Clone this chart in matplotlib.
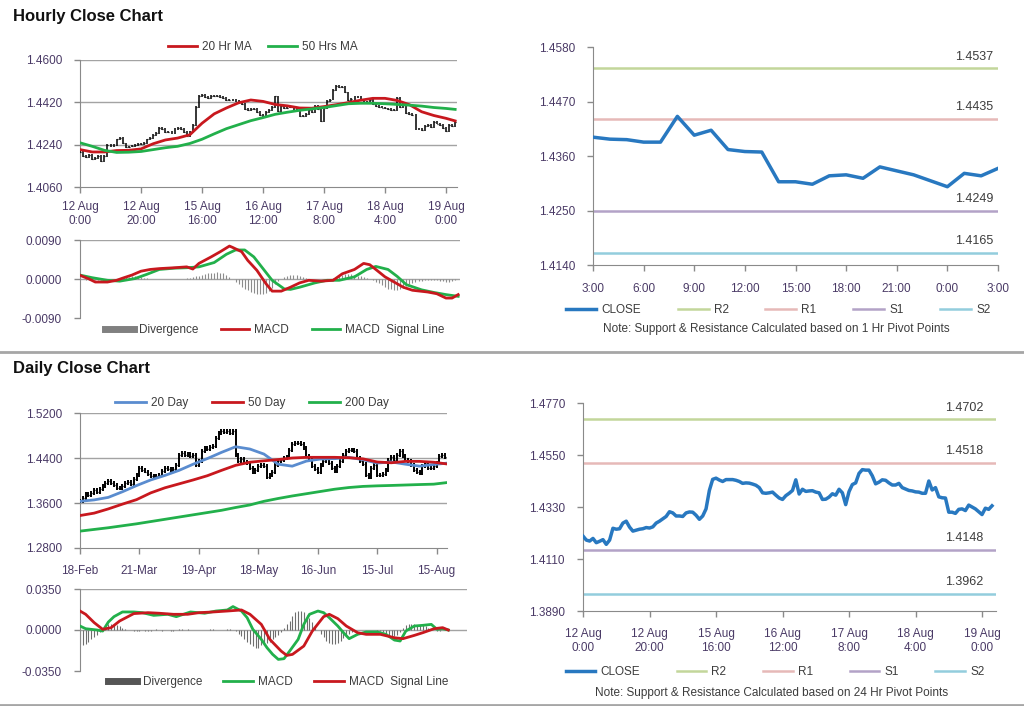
import matplotlib
matplotlib.use('Agg')
import matplotlib.pyplot as plt
from matplotlib.lines import Line2D
import numpy as np

plt.rcParams['font.family'] = ['Liberation Sans', 'DejaVu Sans']

# ---------------- DATA ----------------
hourly_close = [
    1.4207, 1.4190, 1.4186, 1.4197, 1.4179, 1.4185, 1.4192, 1.4172, 1.4190, 1.4240,
    1.4236, 1.4238, 1.4262, 1.4270, 1.4245, 1.4228, 1.4232, 1.4236, 1.4238, 1.4243,
    1.4241, 1.4246, 1.4262, 1.4270, 1.4280, 1.4290, 1.4310, 1.4305, 1.4292, 1.4292,
    1.4290, 1.4305, 1.4309, 1.4308, 1.4295, 1.4278, 1.4292, 1.4322, 1.4400, 1.4447,
    1.4452, 1.4444, 1.4438, 1.4446, 1.4446, 1.4446, 1.4443, 1.4438, 1.4430, 1.4432,
    1.4431, 1.4427, 1.4422, 1.4412, 1.4390, 1.4388, 1.4390, 1.4393, 1.4380, 1.4368,
    1.4362, 1.4378, 1.4388, 1.4400, 1.4445, 1.4385, 1.4405, 1.4396, 1.4398, 1.4399,
    1.4393, 1.4390, 1.4362, 1.4363, 1.4372, 1.4386, 1.4380, 1.4405, 1.4390, 1.4340,
    1.4395, 1.4425, 1.4432, 1.4472, 1.4488, 1.4486, 1.4486, 1.4462, 1.4428, 1.4435,
    1.4445, 1.4443, 1.4432, 1.4423, 1.4423, 1.4430, 1.4412, 1.4406, 1.4400,
    1.4398, 1.4394, 1.4393, 1.4388, 1.4388, 1.4440, 1.4402, 1.4412, 1.4373, 1.4369,
    1.4368, 1.4308, 1.4308, 1.4303, 1.4320, 1.4322, 1.4315, 1.4338, 1.4330, 1.4322,
    1.4310, 1.4298, 1.4325, 1.4320, 1.4335]

hourly_tick_pos = [0, 20, 40, 60, 80, 100, 120]
hourly_tick_labels = ['12 Aug\n0:00', '12 Aug\n20:00', '15 Aug\n16:00', '16 Aug\n12:00',
                      '17 Aug\n8:00', '18 Aug\n4:00', '19 Aug\n0:00']

ma_hours = [0, 4, 8, 12, 16, 20, 24, 28, 32, 36, 40, 44, 48, 52, 56, 60, 64, 68, 72, 76,
            80, 84, 88, 92, 96, 100, 104, 108, 112, 116, 120, 123]
ma20_hr = [1.4219, 1.4209, 1.4209, 1.4215, 1.4216, 1.4222, 1.4244, 1.4260, 1.4268, 1.4282,
           1.4331, 1.4371, 1.4396, 1.4418, 1.4430, 1.4424, 1.4411, 1.4405, 1.4396, 1.4395,
           1.4402, 1.4410, 1.4419, 1.4429, 1.4437, 1.4437, 1.4428, 1.4410, 1.4380, 1.4364,
           1.4352, 1.4341]
ma50_hr = [1.4248, 1.4233, 1.4216, 1.4207, 1.4208, 1.4211, 1.4219, 1.4227, 1.4233, 1.4245,
           1.4263, 1.4286, 1.4308, 1.4325, 1.4342, 1.4355, 1.4369, 1.4378, 1.4386, 1.4392,
           1.4398, 1.4406, 1.4414, 1.4416, 1.4416, 1.4414, 1.4411, 1.4408, 1.4404, 1.4398,
           1.4394, 1.4390]

h_macd_x = [0, 3, 5, 9, 12, 14, 17, 20, 23, 26, 31, 35, 37, 39, 43, 46, 49, 50, 53, 55,
            58, 61, 63, 66, 69, 72, 75, 79, 83, 86, 90, 93, 95, 97, 100, 103, 106, 109, 114, 117,
            120, 122, 124]
h_macd = [0.00085, 0.0000, -0.0007, -0.0007, -0.0003, 0.0002, 0.0009, 0.0018, 0.0022, 0.0024,
          0.0026, 0.0028, 0.0023, 0.0036, 0.0051, 0.0063, 0.0076, 0.0073, 0.0063, 0.0043,
          0.0020, -0.0011, -0.0028, -0.0028, -0.0019, -0.0009, -0.0003, -0.0005, -0.0003, 0.0012,
          0.0022, 0.0036, 0.0033, 0.0022, 0.0005, -0.0007, -0.0019, -0.0026, -0.0030, -0.0034,
          -0.0044, -0.0044, -0.0036]
h_sig_x = [0, 4, 9, 13, 18, 22, 26, 31, 35, 39, 44, 48, 51, 54, 57, 60, 63, 67, 69, 72,
           77, 81, 85, 90, 94, 97, 101, 104, 107, 112, 116, 120, 124]
h_sig = [0.0009, 0.0003, -0.0003, -0.0005, 0.0001, 0.0011, 0.0022, 0.0025, 0.0026, 0.0028,
         0.0038, 0.0057, 0.0067, 0.0067, 0.0051, 0.0024, -0.0003, -0.0023, -0.0024, -0.0019,
         -0.0009, -0.0003, -0.0003, 0.0005, 0.0022, 0.0029, 0.0022, 0.0006, -0.0013, -0.0025,
         -0.0031, -0.0036, -0.0040]
h_div_e4 = [0, -1, -2, -3, -3, -3, -2, -2, -2, -1,
            -1, 0, 1, 2, 3, 4, 5, 6, 6, 5,
            4, 3, 2, 1, 0, -1, -1, -1, -1, -1,
            -1, 0, 0, 1, 1, 2, 3, 4, 6, 8,
            10, 12, 13, 14, 15, 16, 15, 14, 10, 5,
            0, -6, -12, -18, -22, -26, -29, -32, -34, -35,
            -35, -33, -28, -20, -12, -5, 1, 5, 8, 10,
            10, 9, 7, 5, 3, 1, 0, -1, -1, -1,
            -1, 0, 1, 3, 5, 8, 10, 12, 12, 11,
            10, 8, 6, 4, 2, 0, -3, -6, -10, -14,
            -18, -22, -24, -25, -25, -23, -20, -16, -12, -9,
            -7, -5, -4, -3, -2, -2, -2, -3, -4, -5,
            -6, -6, -4, -2]

pivot_hours = ['3:00', '6:00', '9:00', '12:00', '15:00', '18:00', '21:00', '0:00', '3:00']
levels_1h = {'R2': 1.4537, 'R1': 1.4435, 'S1': 1.4249, 'S2': 1.4165}
levels_24h = {'R2': 1.4702, 'R1': 1.4518, 'S1': 1.4148, 'S2': 1.3962}

daily_close = [
    1.3630, 1.3690, 1.3760, 1.3740, 1.3786, 1.3828, 1.3798, 1.3846, 1.3900, 1.3950,
    1.3991, 1.3960, 1.3918, 1.3870, 1.3858, 1.3906, 1.3948, 1.3979, 1.3930, 1.4020,
    1.4099, 1.4219, 1.4189, 1.4160, 1.4111, 1.4080, 1.4069, 1.4075, 1.4099, 1.4171,
    1.4219, 1.4200, 1.4171, 1.4200, 1.4280, 1.4448, 1.4490, 1.4460, 1.4470, 1.4440,
    1.4448, 1.4280, 1.4340, 1.4520, 1.4581, 1.4560, 1.4590, 1.4611, 1.4761, 1.4852,
    1.4882, 1.4860, 1.4882, 1.4852, 1.4882, 1.4450, 1.4340, 1.4388, 1.4330, 1.4310,
    1.4219, 1.4159, 1.4189, 1.4250, 1.4280, 1.4260, 1.4069, 1.4099, 1.4159, 1.4280,
    1.4340, 1.4360, 1.4400, 1.4412, 1.4550, 1.4641, 1.4671, 1.4660, 1.4653, 1.4581,
    1.4430, 1.4370, 1.4250, 1.4200, 1.4159, 1.4280, 1.4340, 1.4400, 1.4310, 1.4219,
    1.4171, 1.4250, 1.4340, 1.4460, 1.4532, 1.4550, 1.4540, 1.4520, 1.4400, 1.4340,
    1.4292, 1.4099, 1.4069, 1.4219, 1.4280, 1.4099, 1.4105, 1.4111, 1.4189, 1.4370,
    1.4412, 1.4370, 1.4450, 1.4520, 1.4430, 1.4370, 1.4340, 1.4280, 1.4189, 1.4150,
    1.4129, 1.4250, 1.4310, 1.4219, 1.4219, 1.4250, 1.4310, 1.4430, 1.4460, 1.4412,
    1.4370]
daily_tick_pos = [0, 21, 42, 63, 84, 105, 126]
daily_tick_labels = ['18-Feb', '21-Mar', '19-Apr', '18-May', '16-Jun', '15-Jul', '15-Aug']

ma_days = [0, 5, 10, 15, 20, 25, 30, 35, 40, 45, 50, 55, 60, 65, 70, 75, 80, 85, 90, 95,
           100, 105, 110, 115, 120, 125, 130]
ma20_day = [1.3630, 1.3655, 1.3700, 1.3800, 1.3910, 1.4010, 1.4090, 1.4180, 1.4290, 1.4390,
            1.4500, 1.4600, 1.4560, 1.4470, 1.4290, 1.4255, 1.4345, 1.4382, 1.4388, 1.4412,
            1.4370, 1.4310, 1.4330, 1.4290, 1.4255, 1.4285, 1.4310]
ma50_day = [1.3377, 1.3420, 1.3495, 1.3580, 1.3660, 1.3780, 1.3870, 1.3940, 1.4010, 1.4085,
            1.4180, 1.4270, 1.4325, 1.4350, 1.4372, 1.4400, 1.4412, 1.4412, 1.4412, 1.4405,
            1.4385, 1.4330, 1.4315, 1.4340, 1.4340, 1.4325, 1.4292]
ma200_day = [1.3100, 1.3130, 1.3160, 1.3195, 1.3230, 1.3270, 1.3310, 1.3350, 1.3390, 1.3430,
             1.3470, 1.3520, 1.3565, 1.3630, 1.3680, 1.3725, 1.3765, 1.3805, 1.3845, 1.3875,
             1.3895, 1.3905, 1.3912, 1.3920, 1.3928, 1.3935, 1.3965]

d_macd_x = [0, 2, 6, 8, 10, 12, 15, 19, 22, 26, 31, 34, 39, 44, 48, 52, 54, 57, 59, 61,
            64, 66, 68, 70, 72, 74, 77, 79, 81, 84, 86, 88, 91, 93, 95, 98, 101, 105, 108, 111,
            113, 115, 118, 121, 124, 126, 128, 130]
d_macd = [0.0034, 0.0011, 0.0, -0.0009, 0.0068, 0.0114, 0.0154, 0.0154, 0.0148, 0.0125,
          0.0134, 0.0114, 0.0154, 0.0143, 0.0162, 0.0171, 0.0200, 0.0162, 0.0105, 0.0006,
          -0.0080, -0.0151, -0.0208, -0.0251, -0.0245, -0.0180, -0.0080, 0.0048, 0.0134, 0.0162,
          0.0148, 0.0105, 0.0034, -0.0023, -0.0074, -0.0037, -0.0017, -0.0017, -0.0037, -0.0086,
          -0.0094, -0.0009, 0.0034, 0.0040, 0.0048, 0.0006, 0.0011, 0.0]
d_sig_x = [0, 2, 5, 8, 11, 14, 19, 24, 28, 33, 38, 42, 47, 52, 57, 60, 64, 67, 71, 73,
           75, 79, 82, 86, 88, 91, 94, 98, 101, 106, 111, 114, 118, 121, 125, 128, 130]
d_sig = [0.0162, 0.0134, 0.0063, 0.0006, 0.0020, 0.0077, 0.0140, 0.0148, 0.0143, 0.0134,
         0.0134, 0.0148, 0.0154, 0.0162, 0.0171, 0.0134, 0.0048, -0.0080, -0.0180, -0.0217,
         -0.0208, -0.0137, -0.0009, 0.0114, 0.0134, 0.0097, 0.0034, -0.0023, -0.0037, -0.0037,
         -0.0066, -0.0074, -0.0046, -0.0023, 0.0011, 0.0020, 0.0]
d_div_e3 = [-12, -13, -12, -10, -8, -6, -4, -2, 1, 3,
            5, 5, 4, 4, 3, 2, 1, 0, 0, -1,
            -1, -1, 0, -1, -1, -1, 0, 1, 0, -1,
            0, 0, -1, -1, 0, 1, 1, 0, 1, 0,
            0, 0, 0, 0, 0, 0, 1, 1, 0, 0,
            0, 0, 1, 1, 0, -1, -3, -5, -8, -10,
            -12, -14, -15, -15, -13, -12, -11, -10, -8, -6,
            -4, -2, 2, 5, 8, 12, 15, 16, 16, 15,
            13, 10, 7, 3, 0, -3, -6, -9, -11, -12,
            -12, -11, -9, -7, -5, -3, -2, -1, 0, 0,
            0, 0, 0, 0, 0, -1, -1, -2, -3, -4,
            -5, -5, -4, -2, 2, 4, 5, 5, 5, 4,
            4, 4, 3, 2, 1, 0, -1, -1, 0, 0,
            0]

# ---------------- STYLE ----------------
W, H = 1024, 706
fig = plt.figure(figsize=(W / 100, H / 100), dpi=100)

TICK_C = '#4a3a66'
SPINE_C = '#8a8a8a'
GRID_C = '#a3a3a3'
TXT_C = '#3c3c3c'
RED = '#c8181e'
GREEN = '#22b04b'
BLUE20 = '#5a8ccf'
CLOSE_C = '#2878c0'
LEVEL_C = {'R2': '#c3d69b', 'R1': '#e6b9b8', 'S1': '#b3a2c7', 'S2': '#93cddd'}
TL = 8.5


def ax_px(l, t, r, b):
    return fig.add_axes([l / W, 1 - b / H, (r - l) / W, (b - t) / H])


def style(ax, bottom=True):
    for s in ['top', 'right']:
        ax.spines[s].set_visible(False)
    ax.spines['left'].set_color(SPINE_C)
    ax.spines['bottom'].set_color(SPINE_C)
    ax.spines['bottom'].set_visible(bottom)
    ax.tick_params(axis='both', colors=SPINE_C, labelcolor=TICK_C, labelsize=TL,
                   length=4, width=1, direction='out')
    ax.tick_params(axis='y', pad=9)
    ax.set_facecolor('none')


def legend(ax, handles, labels, cx, cy, colsp, hl=2.5, tp=0.45, fs=8.5):
    ax.legend(handles, labels, loc='center', bbox_to_anchor=(cx / W, 1 - cy / H),
              bbox_transform=fig.transFigure, ncol=len(handles), frameon=False,
              fontsize=fs, handlelength=hl, handletextpad=tp, columnspacing=colsp,
              borderpad=0, borderaxespad=0, labelcolor=TXT_C)


def ohlc(ax, closes, pad, lw):
    c = np.asarray(closes)
    x = np.arange(len(c))
    o = np.r_[c[0], c[:-1]]
    lo = np.minimum(o, c) - pad
    hi = np.maximum(o, c) + pad
    ax.vlines(x, lo, hi, color='black', lw=lw, zorder=3)
    ax.hlines(c, x, x + 0.3, color='black', lw=0.9, zorder=3)


fmt4 = lambda v: f'{v:.4f}'

# ---------------- Titles / separators ----------------
fig.text(13 / W, 1 - 16 / H, 'Hourly Close Chart', fontsize=12, fontweight='bold',
         color='#111111', va='center', ha='left')
fig.text(13 / W, 1 - 369 / H, 'Daily Close Chart', fontsize=12, fontweight='bold',
         color='#111111', va='center', ha='left')
fig.add_artist(Line2D([0, 1], [1 - 352 / H, 1 - 352 / H], color='#a6a6a6', lw=2,
                      transform=fig.transFigure))
fig.add_artist(Line2D([0, 1], [1 - 704.5 / H, 1 - 704.5 / H], color='#a6a6a6', lw=2,
                      transform=fig.transFigure))

# ---------------- Hourly price (top-left) ----------------
ax1 = ax_px(80, 60, 457, 187)
style(ax1)
yt = [1.4060, 1.4240, 1.4420, 1.4600]
for v in yt[1:]:
    ax1.axhline(v, color=GRID_C, lw=1, zorder=1)
ohlc(ax1, hourly_close, 0.0004, 1.1)
l20, = ax1.plot(ma_hours, ma20_hr, color=RED, lw=2, zorder=4)
l50, = ax1.plot(ma_hours, ma50_hr, color=GREEN, lw=2, zorder=4)
ax1.set_ylim(1.4060, 1.4600)
ax1.set_yticks(yt)
ax1.set_yticklabels([fmt4(v) for v in yt])
ax1.set_xlim(0, 123.6)
ax1.set_xticks(hourly_tick_pos)
ax1.set_xticklabels(hourly_tick_labels, linespacing=1.25)
ax1.tick_params(axis='x', pad=6)
legend(ax1, [l20, l50], ['20 Hr MA', '50 Hrs MA'], 263, 47, 1.4, hl=2.4)

# ---------------- Hourly MACD ----------------
ax2 = ax_px(80, 240, 460, 318)
style(ax2, bottom=False)
ax2.axhline(0.009, color=GRID_C, lw=1, zorder=1)
ax2.axhline(0.0, color=GRID_C, lw=1, zorder=1)
hx = np.arange(len(h_div_e4))
ax2.vlines(hx, 0, np.array(h_div_e4) * 1e-4, color='#8c8c8c', lw=0.8, zorder=2)
m1, = ax2.plot(h_macd_x, h_macd, color=RED, lw=2, zorder=4)
s1, = ax2.plot(h_sig_x, h_sig, color=GREEN, lw=2, zorder=3)
ax2.set_ylim(-0.009, 0.009)
ax2.set_yticks([-0.009, 0.0, 0.009])
ax2.set_yticklabels(['-0.0090', '0.0000', '0.0090'])
ax2.set_xlim(0, 124.6)
ax2.set_xticks([])
dh = Line2D([], [], color='#808080', lw=5)
legend(ax2, [dh, m1, s1], ['Divergence', 'MACD', 'MACD  Signal Line'], 275, 330, 1.9, hl=2.4)

# ---------------- Hourly pivot (top-right) ----------------
ax3 = ax_px(593, 47, 998, 265)
style(ax3)
piv = hourly_close[-25:]
handles = []
cl, = ax3.plot(range(len(piv)), piv, color=CLOSE_C, lw=2.5, zorder=4)
handles.append(cl)
for k, v in levels_1h.items():
    h, = ax3.plot([0, len(piv) - 1], [v, v], color=LEVEL_C[k], lw=1.8, zorder=2)
    handles.append(h)
    ax3.annotate(fmt4(v), xy=(0.988, v), xycoords=('axes fraction', 'data'),
                 xytext=(0, 4), textcoords='offset points', ha='right', va='bottom',
                 fontsize=9, color=TXT_C)
yt3 = [1.4140, 1.4250, 1.4360, 1.4470, 1.4580]
ax3.set_ylim(1.4140, 1.4580)
ax3.set_yticks(yt3)
ax3.set_yticklabels([fmt4(v) for v in yt3])
ax3.set_xlim(0, 24)
ax3.set_xticks(list(range(0, 25, 3)))
ax3.set_xticklabels(pivot_hours)
ax3.tick_params(axis='x', pad=9)
legend(ax3, handles, ['CLOSE', 'R2', 'R1', 'S1', 'S2'], 778, 310, 3.1, hl=2.6)
fig.text(776 / W, 1 - 329 / H, 'Note: Support & Resistance Calculated based on 1 Hr Pivot Points',
         fontsize=8.5, color=TXT_C, ha='center', va='center')

# ---------------- Daily price (bottom-left) ----------------
ax4 = ax_px(80, 413, 447, 548)
style(ax4)
ytd = [1.2800, 1.3600, 1.4400, 1.5200]
for v in ytd[1:]:
    ax4.axhline(v, color=GRID_C, lw=1, zorder=1)
ohlc(ax4, daily_close, 0.0035, 1.4)
b20, = ax4.plot(ma_days, ma20_day, color=BLUE20, lw=2, zorder=4)
b50, = ax4.plot(ma_days, ma50_day, color=RED, lw=2, zorder=4)
b200, = ax4.plot(ma_days, ma200_day, color=GREEN, lw=2, zorder=4)
ax4.set_ylim(1.2800, 1.5200)
ax4.set_yticks(ytd)
ax4.set_yticklabels([fmt4(v) for v in ytd])
ax4.set_xlim(0, 129.7)
ax4.set_xticks(daily_tick_pos)
ax4.set_xticklabels(daily_tick_labels)
ax4.tick_params(axis='x', pad=8)
legend(ax4, [b20, b50, b200], ['20 Day', '50 Day', '200 Day'], 252, 403, 2.0, hl=2.6)

# ---------------- Daily MACD ----------------
ax5 = ax_px(80, 589, 467, 671)
style(ax5, bottom=False)
ax5.axhline(0.035, color=GRID_C, lw=1, zorder=1)
ax5.axhline(0.0, color=GRID_C, lw=1, zorder=1)
dx = np.arange(len(d_div_e3))
ax5.vlines(dx, 0, np.array(d_div_e3) * 1e-3, color='#6e6e6e', lw=0.8, zorder=2)
dm, = ax5.plot(d_macd_x, d_macd, color=GREEN, lw=2, zorder=3)
ds, = ax5.plot(d_sig_x, d_sig, color=RED, lw=2, zorder=4)
ax5.set_ylim(-0.035, 0.035)
ax5.set_yticks([-0.035, 0.0, 0.035])
ax5.set_yticklabels(['-0.0350', '0.0000', '0.0350'])
ax5.set_xlim(0, 136.6)
ax5.set_xticks([])
dh2 = Line2D([], [], color='#555555', lw=5)
legend(ax5, [dh2, dm, ds], ['Divergence', 'MACD', 'MACD  Signal Line'], 278, 682, 1.8, hl=2.5)

# ---------------- Daily pivot (bottom-right) ----------------
ax6 = ax_px(583, 403, 996, 611)
style(ax6)
handles = []
cl2, = ax6.plot(range(len(hourly_close)), hourly_close, color=CLOSE_C, lw=2.5, zorder=4)
handles.append(cl2)
for k, v in levels_24h.items():
    h, = ax6.plot([0, 124.2], [v, v], color=LEVEL_C[k], lw=1.8, zorder=2)
    handles.append(h)
    ax6.annotate(fmt4(v), xy=(0.969, v), xycoords=('axes fraction', 'data'),
                 xytext=(0, 4), textcoords='offset points', ha='right', va='bottom',
                 fontsize=9, color=TXT_C)
yt6 = [1.3890, 1.4110, 1.4330, 1.4550, 1.4770]
ax6.set_ylim(1.3890, 1.4770)
ax6.set_yticks(yt6)
ax6.set_yticklabels([fmt4(v) for v in yt6])
ax6.set_xlim(0, 124.2)
ax6.set_xticks(hourly_tick_pos)
ax6.set_xticklabels(hourly_tick_labels, linespacing=1.25)
ax6.tick_params(axis='x', pad=8)
legend(ax6, handles, ['CLOSE', 'R2', 'R1', 'S1', 'S2'], 775, 672, 3.1, hl=2.5)
fig.text(772 / W, 1 - 693 / H, 'Note: Support & Resistance Calculated based on 24 Hr Pivot Points',
         fontsize=8.5, color=TXT_C, ha='center', va='center')

fig.savefig('out.png', dpi=100, facecolor='white')
